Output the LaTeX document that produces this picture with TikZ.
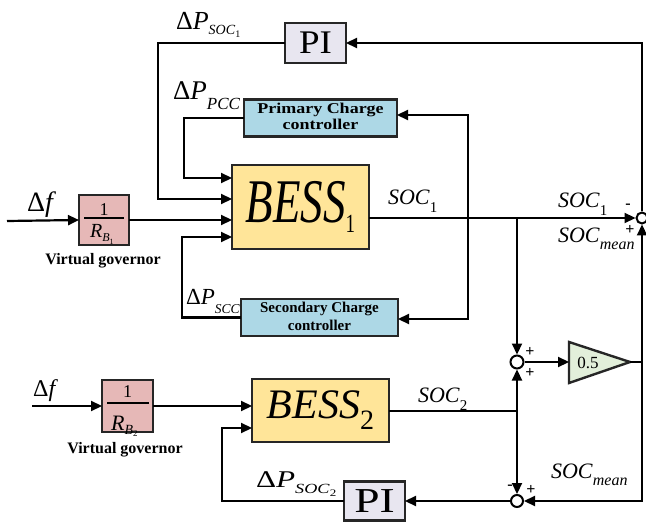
\documentclass[tikz,border=0pt]{standalone}
\usepackage{fontspec}
\setmainfont{Liberation Serif}
\usetikzlibrary{arrows.meta,calc}
\definecolor{bessfill}{RGB}{255,229,153}
\definecolor{ctrlfill}{RGB}{173,216,230}
\definecolor{pifill}{RGB}{232,230,240}
\definecolor{govfill}{RGB}{230,184,183}
\definecolor{gainfill}{RGB}{226,239,218}
\newcommand{\fs}[1]{\fontsize{#1}{#1}\selectfont}
\begin{document}
\begin{tikzpicture}[x=1pt,y=-1pt,
  line width=2.2pt,
  >={Triangle[length=11pt,width=10pt]},
  blk/.style={draw=black!85, line width=2.4pt, inner sep=0pt, outer sep=0pt},
  sumc/.style={circle, draw, line width=2pt, inner sep=0pt, fill=white},
  lbl/.style={inner sep=0pt, anchor=base west},
  lblc/.style={inner sep=0pt, anchor=base},
  sgn/.style={inner sep=0pt, font=\fs{16}\bfseries},
]
\useasboundingbox (0,0) rectangle (646,524);

% ---------- blocks ----------
\node[blk, fill=bessfill, minimum width=137pt, minimum height=84pt] (bess1) at (300.5,207)
  {\scalebox{1}[1.38]{\fs{45}\textit{BESS}\raisebox{-7pt}{\fs{19}1}}};
\node[blk, fill=bessfill, minimum width=137pt, minimum height=63pt] (bess2) at (320.5,410.5)
  {\fs{42}\textit{BESS}\raisebox{-11pt}{\fs{28}2}};
\node[blk, fill=pifill, minimum width=61pt, minimum height=40pt] (pi1) at (315.5,43)
  {\scalebox{1.12}[1]{\fs{33}PI}};
\node[blk, fill=pifill, minimum width=61pt, minimum height=39pt] (pi2) at (374.5,501)
  {\scalebox{1.3}[1]{\fs{35}PI}};
\node[blk, fill=ctrlfill, minimum width=153pt, minimum height=37pt] (pcc) at (320.5,118)
  {\scalebox{1.2}[1]{\fontsize{15}{16.5}\selectfont\bfseries\begin{tabular}{@{}c@{}}Primary Charge\\controller\end{tabular}}};
\node[blk, fill=ctrlfill, minimum width=157pt, minimum height=37pt] (scc) at (319.5,317.5)
  {\fontsize{15}{18}\selectfont\bfseries\begin{tabular}{@{}c@{}}Secondary Charge\\controller\end{tabular}};
\node[blk, fill=govfill, minimum width=50pt, minimum height=50pt] (gov1) at (104,220) {};
\node[blk, fill=govfill, minimum width=51pt, minimum height=52pt] (gov2) at (127.5,406) {};

% governor contents
\node[lblc] (g1num) at (104,215) {\fs{18}1};
\draw[line width=1.3pt] (84,218) coordinate (g1a) -- (124,218) coordinate (g1b);
\node[lbl] (g1den) at (89,238) {{\fs{20}\textit{R}}\raisebox{-4pt}{\fs{12}\textit{B}\raisebox{-2pt}{\fs{8}1}}};
\node[lblc] (g2num) at (127.5,397) {\fs{18}1};
\draw[line width=1.3pt] (107,403) coordinate (g2a) -- (149,403) coordinate (g2b);
\node[lbl] (g2den) at (110,430) {{\fs{22}\textit{R}}\raisebox{-4pt}{\fs{14}\textit{B}\raisebox{-2pt}{\fs{9}2}}};

\node[lblc] (vg1) at (103,265) {\fs{16}\bfseries Virtual governor};
\node[lblc] (vg2) at (125,453) {\fs{16}\bfseries Virtual governor};

% gain
\draw[blk, fill=gainfill] (569,342) -- (630,362) -- (569,383) -- cycle;
\coordinate (gin) at (569,362);
\coordinate (gout) at (630,362);
\node[inner sep=0pt] (gtxt) at (588,363) {\fs{17}0.5};

% summing junctions
\node[sumc, minimum size=11pt] (s1) at (642,218) {};
\node[sumc, minimum size=13pt] (s2) at (517,362) {};
\node[sumc, minimum size=12pt] (s3) at (517,501) {};

\node[sgn] (s1m) at (628,206) {-};
\node[sgn] (s1p) at (630,230) {+};
\node[sgn] (s2p1) at (530,352) {+};
\node[sgn] (s2p2) at (530,373) {+};
\node[sgn] (s3m) at (510,487) {-};
\node[sgn] (s3p) at (531,490) {+};

% ---------- helper coordinates ----------
\coordinate (in1) at (7,221);
\coordinate (in2) at (32,406);
\coordinate (a0) at (184,178);
\coordinate (a1) at (158,199);
\coordinate (a3) at (182,237);
\coordinate (a4) at (222,428);
\coordinate (j1) at (517,218);
\coordinate (j2) at (517,411);
\coordinate (v1) at (468,115);
\coordinate (v2) at (468,319);
\coordinate (rb) at (642,501);

% ---------- connectors ----------
\draw[->] (in1) -- (gov1.west);
\draw[->] (gov1.east) -- (gov1.east -| bess1.west);
\draw[->] (in2) -- (gov2.west);
\draw[->] (gov2.east) -- (gov2.east -| bess2.west);

\draw[->] (pcc.west) -| (a0) -- (a0 -| bess1.west);
\draw[->] (pi1.west) -| (a1) -- (a1 -| bess1.west);
\draw[->] (scc.west) -| (a3) -- (a3 -| bess1.west);

\draw[->] (bess1.east |- s1) -- (s1.west);
\draw[->] (j1) -- (s2.north);
\draw[<->] (v1 -| pcc.east) -- (v1) -- (v2) -- (v2 -| scc.east);

\draw[->] (s1.north) |- (pi1.east);
\draw[->] (s2.east) -- (gin);
\draw[->] (gout) -| (s1.south);
\draw[->] (s1.south |- gout) -- (rb) -- (s3.east);

\draw (bess2.east |- j2) -- (j2);
\draw[->] (j2) -- (s2.south);
\draw[->] (j2) -- (s3.north);
\draw[->] (s3.west) -- (pi2.east);
\draw[->] (pi2.west) -| (a4) -- (a4 -| bess2.west);

% ---------- labels ----------
\node[lbl] (ldf1) at (26,212) {\fs{28}Δ\textit{f}};
\node[lbl] (ldf2) at (32,396) {\fs{24}Δ\textit{f}};
\node[lbl] (ldp1) at (175,30) {{\fs{26}Δ\textit{P}}\raisebox{-5pt}{\fs{14}\textit{SOC}\raisebox{-3pt}{\fs{10}1}}};
\node[lbl] (ldppcc) at (172,100) {{\fs{27}Δ\textit{P}}\raisebox{-10pt}{\fs{17}\textit{PCC}}};
\node[lbl] (ldpscc) at (185,305) {{\fs{23}Δ\textit{P}}\raisebox{-9pt}{\fs{13.5}\textit{SCC}}};
\node[lbl] (ldp2) at (255,487) {\scalebox{1.3}[1]{{\fs{24}Δ\textit{P}}\raisebox{-6pt}{\fs{14}\textit{SOC}\raisebox{-3pt}{\fs{10}2}}}};
\node[lbl] (lsoc1a) at (387,205) {{\fs{22}\textit{SOC}}\raisebox{-8pt}{\fs{15}1}};
\node[lbl] (lsoc1b) at (557,208) {{\fs{22}\textit{SOC}}\raisebox{-8pt}{\fs{15}1}};
\node[lbl] (lmean1) at (557,243) {{\fs{22}\textit{SOC}}\raisebox{-7pt}{\fs{16}\textit{mean}}};
\node[lbl] (lmean2) at (550,478) {{\fs{22}\textit{SOC}}\raisebox{-7pt}{\fs{16}\textit{mean}}};
\node[lbl] (lsoc2) at (417,402) {{\fs{22}\textit{SOC}}\raisebox{-8pt}{\fs{15}2}};
\end{tikzpicture}
\end{document}
